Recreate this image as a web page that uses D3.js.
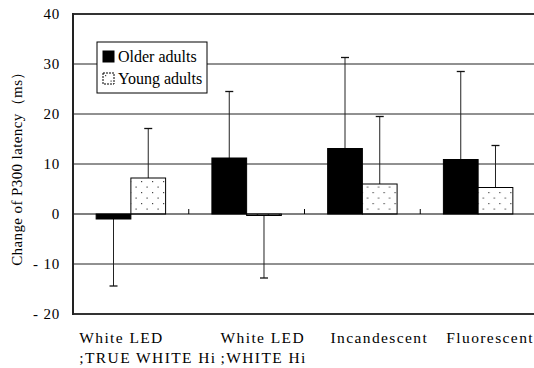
<!DOCTYPE html>
<html>
<head>
<meta charset="utf-8">
<script src="https://cdn.jsdelivr.net/npm/d3@7"></script>
<style>
  body { margin: 0; background: #fff; }
  svg { display: block; }
  text { font-family: "Liberation Serif", "Times New Roman", serif; fill: #000; }
</style>
</head>
<body>
<svg id="chart"></svg>
<script>
// categories (each split into its printed lines)
const categories = [
  ["White LED", ";TRUE WHITE Hi"],
  ["White LED", ";WHITE Hi"],
  ["Incandescent"],
  ["Fluorescent"],
];
const seriesNames = ["Older adults", "Young adults"];
const olderMean = [-1.0, 11.2, 13.1, 10.9];
const olderSD = [13.4, 13.3, 18.2, 17.6];
const youngMean = [7.2, -0.3, 6.0, 5.3];
const youngSD = [9.9, 12.5, 13.5, 8.4];
const yTicks = [-20, -10, 0, 10, 20, 30, 40];

const W = 534, H = 368;
const margin = { top: 14, right: -2, bottom: 54, left: 73 };
const width = W - margin.left - margin.right;
const height = H - margin.top - margin.bottom;

const svg = d3.select("#chart").attr("width", W).attr("height", H);

const defs = svg.append("defs");
const pat = defs.append("pattern")
  .attr("id", "dots")
  .attr("patternUnits", "userSpaceOnUse")
  .attr("width", 11).attr("height", 11);
pat.append("rect").attr("width", 11).attr("height", 11).attr("fill", "#fff");
pat.append("rect").attr("x", 2).attr("y", 2).attr("width", 1.2).attr("height", 1.2).attr("fill", "#444");
pat.append("rect").attr("x", 7.5).attr("y", 7.5).attr("width", 1.2).attr("height", 1.2).attr("fill", "#444");

const g = svg.append("g").attr("transform", `translate(${margin.left},${margin.top})`);

const x = d3.scaleBand().domain(d3.range(categories.length)).range([0, width]).padding(0);
const xInner = d3.scaleBand().domain(seriesNames)
  .range([x.bandwidth() * 0.2, x.bandwidth() * 0.8]).padding(0);
const y = d3.scaleLinear().domain([-20, 40]).range([height, 0]);

// gridlines (inner ones only)
g.append("g").selectAll("line")
  .data(yTicks.filter(d => d !== 0 && d !== -20 && d !== 40))
  .join("line")
  .attr("x1", 0).attr("x2", width)
  .attr("y1", d => y(d)).attr("y2", d => y(d))
  .attr("stroke", "#222").attr("stroke-width", 1);

// top and bottom frame lines
g.append("g").selectAll("line")
  .data([-20, 40])
  .join("line")
  .attr("x1", 0).attr("x2", width)
  .attr("y1", d => y(d)).attr("y2", d => y(d))
  .attr("stroke", "#333").attr("stroke-width", 2);

// y axis labels
const yAxis = d3.axisLeft(y).tickValues(yTicks).tickSize(0).tickPadding(13)
  .tickFormat(d => d < 0 ? "- " + Math.abs(d) : d);
const yAxisG = g.append("g").call(yAxis)
  .attr("font-family", "Liberation Serif, serif")
  .attr("font-size", 15);
yAxisG.select(".domain").remove();
yAxisG.selectAll("text").attr("letter-spacing", 0.8).attr("fill", "#000");

// bars
const rows = categories.map((c, i) => ([
  { i, s: seriesNames[0], v: olderMean[i], e: olderSD[i] },
  { i, s: seriesNames[1], v: youngMean[i], e: youngSD[i] },
]));

const groups = g.append("g").selectAll("g")
  .data(rows)
  .join("g")
  .attr("transform", (d, i) => `translate(${x(i)},0)`);

// error bars (one-sided, away from zero)
groups.selectAll("g.err")
  .data(d => d)
  .join("g")
  .attr("class", "err")
  .each(function (d) {
    const cx = xInner(d.s) + xInner.bandwidth() / 2;
    const end = d.v + (d.v < 0 ? -d.e : d.e);
    const sel = d3.select(this);
    sel.append("line")
      .attr("x1", cx).attr("x2", cx)
      .attr("y1", y(d.v)).attr("y2", y(end))
      .attr("stroke", "#222").attr("stroke-width", 1);
    sel.append("line")
      .attr("x1", cx - 4).attr("x2", cx + 4)
      .attr("y1", y(end)).attr("y2", y(end))
      .attr("stroke", "#111").attr("stroke-width", 1.3);
  });

groups.selectAll("rect")
  .data(d => d)
  .join("rect")
  .attr("x", d => xInner(d.s))
  .attr("width", xInner.bandwidth())
  .attr("y", d => y(Math.max(0, d.v)))
  .attr("height", d => Math.abs(y(d.v) - y(0)))
  .attr("fill", d => d.s === seriesNames[0] ? "#000" : "url(#dots)")
  .attr("stroke", "#000")
  .attr("stroke-width", 1);

// zero axis line and category ticks
g.append("line")
  .attr("x1", 0).attr("x2", width)
  .attr("y1", y(0)).attr("y2", y(0))
  .attr("stroke", "#000").attr("stroke-width", 1.2);
g.append("g").selectAll("line")
  .data(d3.range(1, categories.length))
  .join("line")
  .attr("x1", d => x(d)).attr("x2", d => x(d))
  .attr("y1", y(0)).attr("y2", y(0) - 5)
  .attr("stroke", "#000").attr("stroke-width", 1);

// left frame
g.append("line")
  .attr("x1", 0).attr("x2", 0)
  .attr("y1", y(40) - 1).attr("y2", y(-20) + 1)
  .attr("stroke", "#222").attr("stroke-width", 2);

// category labels: lines left-aligned, block roughly centred under the group
const catG = g.append("g").selectAll("text")
  .data(categories)
  .join("text")
  .attr("font-size", 15.5)
  .attr("letter-spacing", 1.4)
  .attr("y", height + 29);
catG.selectAll("tspan")
  .data(d => d)
  .join("tspan")
  .attr("x", 0)
  .attr("dy", (d, j) => j === 0 ? 0 : 20)
  .text(d => d);
catG.each(function (d, i) {
  const w = d3.max(d3.select(this).selectAll("tspan").nodes(), n => n.getComputedTextLength());
  const left = Math.min(x(i) + x.bandwidth() / 2 + 17 - w / 2, W - margin.left - w);
  d3.select(this).selectAll("tspan").attr("x", left);
});

// y title
svg.append("text")
  .attr("transform", `translate(22,165) rotate(-90)`)
  .attr("text-anchor", "middle")
  .attr("font-size", 15)
  .attr("letter-spacing", 0.4)
  .text("Change of P300 latency（ms）");

// legend
const legend = svg.append("g").attr("transform", "translate(97,42)");
legend.append("rect")
  .attr("width", 110).attr("height", 51)
  .attr("fill", "#fff").attr("stroke", "#000").attr("stroke-width", 1);
const li = legend.selectAll("g.item")
  .data(seriesNames)
  .join("g")
  .attr("class", "item")
  .attr("transform", (d, i) => `translate(6,${9 + i * 22})`);
li.append("rect")
  .attr("width", 11).attr("height", 11)
  .attr("fill", (d, i) => i === 0 ? "#000" : "url(#dots)")
  .attr("stroke", "#000").attr("stroke-width", 1)
  .attr("stroke-dasharray", (d, i) => i === 0 ? null : "2,1");
li.append("text")
  .attr("font-size", 16)
  .attr("x", 15).attr("y", 10.5)
  .text(d => d);
</script>
</body>
</html>
